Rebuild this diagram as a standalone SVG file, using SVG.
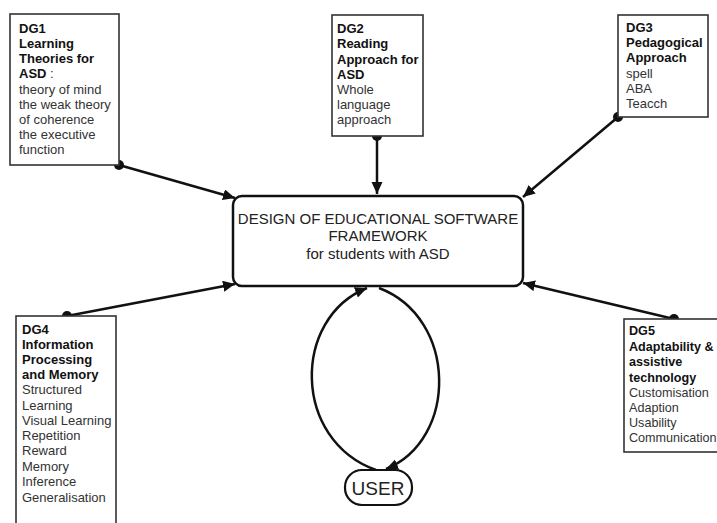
<svg xmlns="http://www.w3.org/2000/svg" width="717" height="523" viewBox="0 0 717 523">
<style>
  .box{fill:#fff;stroke:#333;stroke-width:1.6}
  .main{fill:#fff;stroke:#111;stroke-width:2.5}
  .t{font-family:"Liberation Sans",Arial,sans-serif;font-size:13px;fill:#333}
  .t5{font-size:12.6px}
  .b{font-weight:bold;fill:#111}
  .mt{font-family:"Liberation Sans",Arial,sans-serif;font-size:15px;fill:#222;text-anchor:middle}
  .ut{font-family:"Liberation Sans",Arial,sans-serif;font-size:19px;fill:#222;text-anchor:middle}
  .c{fill:none;stroke:#111;stroke-width:2.5}
  .dot{fill:#111}
</style>
<defs>
  <marker id="ah" markerUnits="userSpaceOnUse" markerWidth="14" markerHeight="12" refX="12" refY="5.5" orient="auto">
    <path d="M0,0 L12,5.5 L0,11 Z" fill="#111"/>
  </marker>
</defs>
<g id="connectors">
  <line class="c" x1="119" y1="165" x2="235" y2="198" marker-end="url(#ah)"/>
  <line class="c" x1="377" y1="136" x2="377" y2="194" marker-end="url(#ah)"/>
  <line class="c" x1="618" y1="117" x2="523" y2="197" marker-end="url(#ah)"/>
  <line class="c" x1="67" y1="316" x2="235" y2="284" marker-end="url(#ah)"/>
  <line class="c" x1="674" y1="319" x2="523" y2="283" marker-end="url(#ah)"/>
  <path class="c" d="M376 470 C292 440, 292 318, 367 288" marker-end="url(#ah)"/>
  <path class="c" d="M379 288 C458 318, 458 440, 386 469" marker-end="url(#ah)"/>
  <circle class="dot" cx="119" cy="165" r="5"/>
  <circle class="dot" cx="377" cy="136" r="5"/>
  <circle class="dot" cx="618" cy="117" r="5"/>
  <circle class="dot" cx="67" cy="316" r="5"/>
  <circle class="dot" cx="674" cy="319" r="5"/>
</g>
<g id="main">
  <rect class="main" x="233" y="196" width="290" height="90" rx="9"/>
  <text class="mt" x="378" y="224">DESIGN OF EDUCATIONAL SOFTWARE</text>
  <text class="mt" x="378" y="241">FRAMEWORK</text>
  <text class="mt" x="378" y="259">for students with ASD</text>
</g>
<g id="dg1">
  <rect class="box" x="10" y="14" width="109" height="151"/>
  <text class="t" x="19"><tspan class="b" x="19" y="33">DG1</tspan><tspan class="b" x="19" y="48">Learning</tspan><tspan class="b" x="19" y="63">Theories for</tspan><tspan x="19" y="78"><tspan class="b">ASD</tspan> :</tspan><tspan x="19" y="94">theory of mind</tspan><tspan x="19" y="109">the weak theory</tspan><tspan x="19" y="124">of coherence</tspan><tspan x="19" y="139">the executive</tspan><tspan x="19" y="154">function</tspan></text>
</g>
<g id="dg2">
  <rect class="box" x="332" y="15" width="91" height="121"/>
  <text class="t"><tspan class="b" x="337" y="33">DG2</tspan><tspan class="b" x="337" y="48">Reading</tspan><tspan class="b" x="337" y="64">Approach for</tspan><tspan class="b" x="337" y="79">ASD</tspan><tspan x="337" y="94">Whole</tspan><tspan x="337" y="109">language</tspan><tspan x="337" y="124">approach</tspan></text>
</g>
<g id="dg3">
  <rect class="box" x="618" y="15" width="90" height="102"/>
  <text class="t"><tspan class="b" x="626" y="32">DG3</tspan><tspan class="b" x="626" y="47">Pedagogical</tspan><tspan class="b" x="626" y="62">Approach</tspan><tspan x="626" y="78">spell</tspan><tspan x="626" y="93">ABA</tspan><tspan x="626" y="108">Teacch</tspan></text>
</g>
<g id="dg4">
  <rect class="box" x="16" y="316" width="100" height="215"/>
  <text class="t"><tspan class="b" x="22" y="334">DG4</tspan><tspan class="b" x="22" y="349">Information</tspan><tspan class="b" x="22" y="364">Processing</tspan><tspan class="b" x="22" y="379">and Memory</tspan><tspan x="22" y="394">Structured</tspan><tspan x="22" y="410">Learning</tspan><tspan x="22" y="425">Visual Learning</tspan><tspan x="22" y="440">Repetition</tspan><tspan x="22" y="455">Reward</tspan><tspan x="22" y="471">Memory</tspan><tspan x="22" y="486">Inference</tspan><tspan x="22" y="502">Generalisation</tspan></text>
</g>
<g id="dg5">
  <rect class="box" x="624" y="319" width="100" height="133"/>
  <text class="t t5"><tspan class="b" x="629" y="335">DG5</tspan><tspan class="b" x="629" y="351">Adaptability &amp;</tspan><tspan class="b" x="629" y="366">assistive</tspan><tspan class="b" x="629" y="382">technology</tspan><tspan x="629" y="397">Customisation</tspan><tspan x="629" y="412">Adaption</tspan><tspan x="629" y="427">Usability</tspan><tspan x="629" y="442">Communication</tspan></text>
</g>
<g id="user">
  <rect x="345" y="470" width="67" height="35" rx="17" fill="#fff" stroke="#111" stroke-width="2.2"/>
  <text class="ut" x="378" y="495">USER</text>
</g>
</svg>
